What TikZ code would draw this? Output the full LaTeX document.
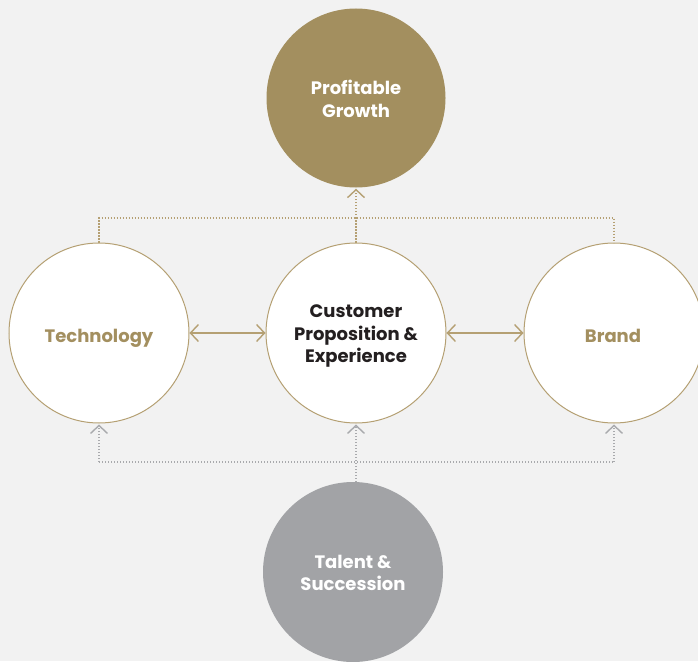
\documentclass[tikz,border=0pt]{standalone}
\usepackage{fontspec}
\setmainfont{Poppins}
\usetikzlibrary{arrows.meta}
\definecolor{bg}{HTML}{F2F2F2}
\definecolor{gold}{HTML}{A38F5F}
\definecolor{goldline}{HTML}{B5A073}
\definecolor{greyfill}{HTML}{A2A3A6}
\definecolor{greyline}{HTML}{A9AAAD}
\definecolor{ink}{HTML}{231F20}
\tikzset{
  circ/.style={circle, minimum size=180pt, inner sep=0pt},
  whitecirc/.style={circ, fill=white, draw=goldline, line width=1pt},
  lbl/.style={inner sep=0pt, align=center, font=\fontsize{18}{22.5}\selectfont\bfseries},
  goldtxt/.style={lbl, text=gold},
  dotgold/.style={draw=goldline, line width=1.2pt, dash pattern=on 1.2pt off 1.8pt},
  dotgrey/.style={draw=greyline, line width=1.2pt, dash pattern=on 1.2pt off 1.8pt},
  barb/.style={-{Straight Barb[length=8pt,width=17pt,line width=1.4pt]}},
  dblbarb/.style={{Straight Barb[length=8pt,width=17pt,line width=1.4pt]}-{Straight Barb[length=8pt,width=17pt,line width=1.4pt]}},
}
\begin{document}
\begin{tikzpicture}[x=1pt,y=-1pt]
\fill[bg] (0,0) rectangle (698,661);
\useasboundingbox (0,0) rectangle (698,661);
\node[circ, fill=gold, minimum size=179pt] (growth) at (356,98) {};
\node[whitecirc] (tech) at (99,333) {};
\node[whitecirc] (cust) at (356,333) {};
\node[whitecirc] (brand) at (614,333) {};
\node[circ, fill=greyfill] (talent) at (353,572) {};
\node[lbl, text=white] (growthT) at (356,99) {Profitable\\Growth};
\node[goldtxt, text depth=0pt] (techT) at (99,336) {Technology};
\node[lbl, text=ink] (custT) at (356,336) {Customer\\Proposition \&\\Experience};
\node[goldtxt, text depth=0pt] (brandT) at (613,336) {Brand};
\node[lbl, text=white] (talentT) at (353,573) {Talent \&\\Succession};
% top connectors
\coordinate (tl) at (99,218);
\coordinate (tr) at (614,218);
\coordinate (tm) at (356,218);
\draw[dotgold] (tech.north) -- (tl) -- (tr) -- (brand.north);
\draw[dotgold] (cust.north) -- (tm);
\draw[dotgold, barb] (tm) -- ([yshift=-1pt]growth.south);
% horizontal arrows
\draw[draw=goldline, line width=1.4pt, dblbarb] (tech.east) -- (cust.west);
\draw[draw=goldline, line width=1.4pt, dblbarb] (cust.east) -- (brand.west);
% bottom connectors
\coordinate (bl) at (99,462);
\coordinate (br) at (614,462);
\coordinate (bm) at (356,462);
\draw[dotgrey] (bl) -- (br);
\draw[dotgrey, barb] (bl) -- ([yshift=-1pt]tech.south);
\draw[dotgrey, barb] (br) -- ([yshift=-1pt]brand.south);
\draw[dotgrey, barb] (talent.north -| bm) -- ([yshift=-1pt]cust.south);
\end{tikzpicture}
\end{document}
